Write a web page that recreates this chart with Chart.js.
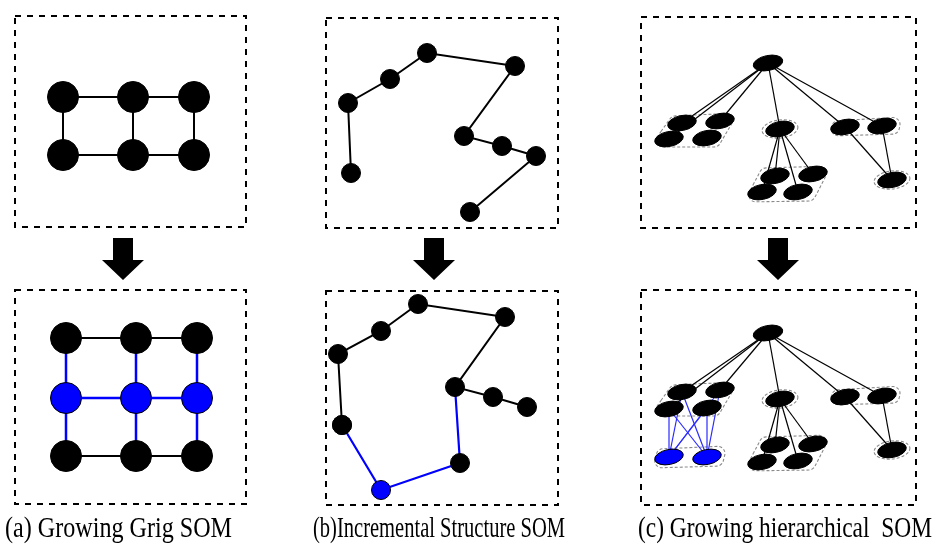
<!DOCTYPE html>
<html>
<head>
<meta charset="utf-8">
<script src="https://cdn.jsdelivr.net/npm/chart.js@4.4.1/dist/chart.umd.min.js"></script>
<style>
	body { margin: 0; background: #fff; }
	#wrap { width: 936px; height: 544px; position: relative; }
</style>
</head>
<body>
<div id="wrap"><canvas id="somChart"></canvas></div>
<script>
// ---- data (pixel space 936 x 544) ----
const captions = ['(a) Growing Grig SOM', '(b)Incremental Structure SOM', '(c) Growing hierarchical  SOM'];
const captionX = [5, 313, 638];
const captionW = [227, 252, 294];

const panelBoxes = [[15, 16, 246, 227], [15, 290, 246, 504], [326, 18, 558, 228], [326, 291, 558, 505], [641, 17, 916, 228], [641, 290, 916, 505]];
const arrowX = [123, 434, 778];

// (a) growing grid
const gridTopNodes = [[63, 97], [133, 97], [194, 97], [63, 155], [133, 155], [194, 155]];
const gridTopEdges = [[0, 1], [1, 2], [3, 4], [4, 5], [0, 3], [1, 4], [2, 5]];
const gridBotNodes = [[66, 338], [136, 338], [197, 338], [66, 398], [136, 398], [197, 398], [66, 456], [136, 456], [197, 456]];
const gridBotBlack = [[0, 1], [1, 2], [6, 7], [7, 8]];
const gridBotBlue = [[3, 4], [4, 5], [0, 3], [3, 6], [1, 4], [4, 7], [2, 5], [5, 8]];
const gridBotBlueNodes = [3, 4, 5];

// (b) incremental structure
const chainTop = [[351, 173], [348, 103], [390, 79], [427, 53], [515, 66], [464, 136], [502, 146], [536, 156], [470, 212]];
const chainBot = [[527, 407], [493, 397], [455, 387], [505, 317], [418, 304], [381, 331], [338, 354], [342, 425]];
const chainBotBlue = [[342, 425], [381, 490], [460, 463], [455, 387]];
const chainBotNewNode = [381, 490];

// (c) growing hierarchical
const hierTopNodes = [[768, 63], [682, 123], [720, 121], [669, 139], [707, 138], [780, 129], [775, 176], [813, 174], [762, 192], [798, 192], [845, 127], [882, 126], [892, 180]];
const hierBotNodes = [[768, 333], [682, 392], [720, 390], [669, 409], [707, 408], [780, 399], [775, 445], [813, 444], [762, 462], [798, 461], [845, 397], [882, 396], [892, 450]];
const hierEdges = [[0, 1], [0, 3], [0, 2], [0, 5], [0, 10], [0, 11], [5, 6], [5, 8], [5, 9], [5, 7], [10, 12], [11, 12]];
const hierBotBlueNodes = [[669, 457], [707, 457]];
const hierBotBlueFrom = [1, 2, 3, 4];
const hierTopGroups = [[[672, 116], [738, 113], [718, 147], [650, 147]], [[762, 168], [831, 166], [813, 201], [744, 202]], [[833, 121], [902, 117], [898, 134], [829, 136]]];
const hierBotGroups = [[[672, 385], [738, 382], [718, 416], [650, 416]], [[762, 437], [831, 435], [813, 470], [744, 471]], [[833, 390], [902, 386], [898, 403], [829, 405]], [[658, 449], [727, 446], [722, 466], [652, 468]]];
const hierTopSingles = [[780, 129], [892, 180]];
const hierBotSingles = [[780, 399], [892, 450]];

// ---- datasets ----
const datasets = [];
function pt(p) { return { x: p[0], y: p[1] }; }

function addEdge(a, b, color, width)
{
	datasets.push({
		data: [pt(a), pt(b)],
		showLine: true,
		borderColor: color,
		borderWidth: width,
		pointRadius: 0,
		order: 2,
		clip: false
	});
}
function addPath(list, color, width)
{
	datasets.push({
		data: list.map(pt),
		showLine: true,
		borderColor: color,
		borderWidth: width,
		pointRadius: 0,
		order: 2,
		clip: false
	});
}
function addNodes(list, fill, radius)
{
	datasets.push({
		data: list.map(pt),
		showLine: false,
		pointRadius: radius,
		pointBackgroundColor: fill,
		pointBorderColor: '#000',
		pointBorderWidth: 1,
		order: 0,
		clip: false
	});
}

const BLUE = '#0000ff';

gridTopEdges.forEach(e => addEdge(gridTopNodes[e[0]], gridTopNodes[e[1]], '#000', 2));
gridBotBlack.forEach(e => addEdge(gridBotNodes[e[0]], gridBotNodes[e[1]], '#000', 2));
gridBotBlue.forEach(e => addEdge(gridBotNodes[e[0]], gridBotNodes[e[1]], BLUE, 2.5));
addNodes(gridTopNodes, '#000', 15.5);
addNodes(gridBotNodes.filter((_, i) => gridBotBlueNodes.indexOf(i) < 0), '#000', 15.5);
addNodes(gridBotBlueNodes.map(i => gridBotNodes[i]), BLUE, 15.5);

addPath(chainTop, '#000', 2);
addPath(chainBot, '#000', 2);
addPath(chainBotBlue, BLUE, 2.2);
addNodes(chainTop, '#000', 9.5);
addNodes(chainBot, '#000', 9.5);
addNodes([chainBotBlue[0], chainBotBlue[2]], '#000', 9.5);
addNodes([chainBotNewNode], BLUE, 9.5);

hierEdges.forEach(e => addEdge(hierTopNodes[e[0]], hierTopNodes[e[1]], '#000', 1.2));
hierEdges.forEach(e => addEdge(hierBotNodes[e[0]], hierBotNodes[e[1]], '#000', 1.2));
hierBotBlueFrom.forEach(i => hierBotBlueNodes.forEach(b => addEdge(hierBotNodes[i], b, '#2b2bff', 1.2)));

// ---- drawing helpers for the non-dataset parts ----
const decorPlugin = {
	id: 'decor',
	beforeDatasetsDraw(chart)
	{
		const ctx = chart.ctx;
		const xs = chart.scales.x, ys = chart.scales.y;
		const X = v => xs.getPixelForValue(v), Y = v => ys.getPixelForValue(v);
		ctx.save();

		// dashed panel frames
		ctx.strokeStyle = '#000';
		ctx.lineWidth = 2;
		ctx.setLineDash([6, 6]);
		panelBoxes.forEach(function (b)
		{
			ctx.beginPath();
			ctx.moveTo(X(b[0]), Y(b[1]));
			ctx.lineTo(X(b[2]), Y(b[1]));
			ctx.lineTo(X(b[2]), Y(b[3]));
			ctx.lineTo(X(b[0]), Y(b[3]));
			ctx.closePath();
			ctx.stroke();
		});

		// block arrows between the rows
		ctx.setLineDash([]);
		ctx.fillStyle = '#000';
		arrowX.forEach(function (ax)
		{
			ctx.beginPath();
			ctx.moveTo(X(ax - 10), Y(238));
			ctx.lineTo(X(ax + 10), Y(238));
			ctx.lineTo(X(ax + 10), Y(260));
			ctx.lineTo(X(ax + 21), Y(260));
			ctx.lineTo(X(ax), Y(280));
			ctx.lineTo(X(ax - 21), Y(260));
			ctx.lineTo(X(ax - 10), Y(260));
			ctx.closePath();
			ctx.fill();
		});

		// grey dashed group outlines
		ctx.strokeStyle = '#8a8a8a';
		ctx.lineWidth = 1.1;
		ctx.setLineDash([3, 2]);
		hierTopGroups.concat(hierBotGroups).forEach(function (g)
		{
			const p = g.map(c => [X(c[0]), Y(c[1])]);
			ctx.beginPath();
			const n = p.length;
			const m0 = [(p[n - 1][0] + p[0][0]) / 2, (p[n - 1][1] + p[0][1]) / 2];
			ctx.moveTo(m0[0], m0[1]);
			for (let i = 0; i < n; i++)
			{
				const nx = p[(i + 1) % n];
				ctx.arcTo(p[i][0], p[i][1], nx[0], nx[1], 7);
			}
			ctx.closePath();
			ctx.stroke();
		});
		hierTopSingles.concat(hierBotSingles).forEach(function (s)
		{
			ctx.beginPath();
			ctx.ellipse(X(s[0]), Y(s[1]), 18, 9, -0.12, 0, Math.PI * 2);
			ctx.stroke();
		});
		ctx.restore();
	},
	afterDatasetsDraw(chart)
	{
		const ctx = chart.ctx;
		const xs = chart.scales.x, ys = chart.scales.y;
		const X = v => xs.getPixelForValue(v), Y = v => ys.getPixelForValue(v);
		ctx.save();

		function blob(p, fill, rx)
		{
			ctx.beginPath();
			ctx.ellipse(X(p[0]), Y(p[1]), rx, 7.5, -0.2, 0, Math.PI * 2);
			ctx.fillStyle = fill;
			ctx.fill();
			ctx.strokeStyle = '#000';
			ctx.lineWidth = 1;
			ctx.stroke();
		}
		hierTopNodes.forEach((p, i) => blob(p, '#000', i === 0 ? 15 : 14.5));
		hierBotNodes.forEach((p, i) => blob(p, '#000', i === 0 ? 15 : 14.5));
		hierBotBlueNodes.forEach(p => blob(p, BLUE, 14.5));

		// captions
		ctx.fillStyle = '#000';
		ctx.font = '29px "Liberation Serif", "Times New Roman", serif';
		ctx.textBaseline = 'alphabetic';
		captions.forEach(function (t, i)
		{
			ctx.fillText(t, captionX[i], 537, captionW[i]);
		});
		ctx.restore();
	}
};

new Chart(document.getElementById('somChart'), {
	type: 'scatter',
	data: { datasets: datasets },
	options: {
		responsive: true,
		maintainAspectRatio: false,
		animation: false,
		events: [],
		layout: { padding: 0, autoPadding: false },
		plugins: { legend: { display: false }, tooltip: { enabled: false } },
		scales: {
			x: { type: 'linear', min: 0, max: 936, display: false },
			y: { type: 'linear', min: 0, max: 544, reverse: true, display: false }
		}
	},
	plugins: [decorPlugin]
});
</script>
</body>
</html>
